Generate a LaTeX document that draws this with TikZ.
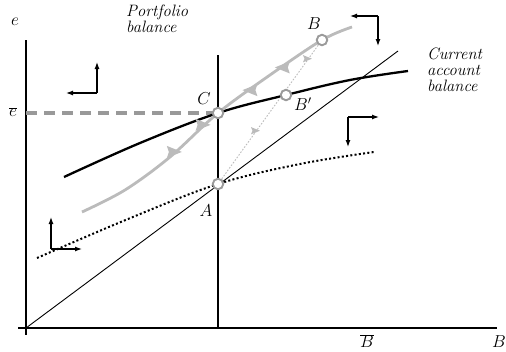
\documentclass[tikz,border=0pt]{standalone}
\usepackage{fontspec}
\usetikzlibrary{arrows.meta,decorations.markings}
\definecolor{pathgray}{HTML}{BBBBBB}
\definecolor{dashgray}{HTML}{999999}
\definecolor{ringgray}{HTML}{9A9A9A}
\begin{document}
\begin{tikzpicture}[x=1pt,y=-1pt,
  lbl/.style={font=\fontsize{16.5}{16}\selectfont\itshape, inner sep=0pt},
  mlbl/.style={font=\fontsize{16.5}{16}\selectfont, inner sep=0pt},
  axisline/.style={line width=1.2pt, black},
  pbline/.style={line width=2.1pt, black},
  caline/.style={line width=2.3pt, black},
  dotcurve/.style={line width=2pt, black, dash pattern=on 2pt off 2.3pt},
  diag/.style={line width=0.9pt, black},
  ebar/.style={line width=3.6pt, dashgray, dash pattern=on 11pt off 7pt},
  saddle/.style={line width=2.8pt, pathgray},
  adjpath/.style={line width=0.9pt, pathgray, dash pattern=on 1.6pt off 1.6pt},
  ring/.style={circle, draw=ringgray, fill=white, line width=1.9pt, minimum size=10.5pt, inner sep=0pt},
  crossarr/.style={line width=1.2pt, black, -{Latex[length=7pt,width=5pt]}},
  bighead/.pic={\fill[pathgray] (6pt,0pt) -- (-9pt,6pt) -- (-7pt,0pt) -- (-9pt,-6pt) -- cycle;},
  bigheadrev/.pic={\fill[pathgray] (-6pt,0pt) -- (9pt,6pt) -- (7pt,0pt) -- (9pt,-6pt) -- cycle;},
  smallhead/.pic={\fill[pathgray] (3.5pt,0pt) -- (-5.5pt,3.6pt) -- (-4pt,0pt) -- (-5.5pt,-3.6pt) -- cycle;}
]
\useasboundingbox (0,0) rectangle (506,351);

% key points
\coordinate (O) at (26,328);
\coordinate (A) at (218,184);
\coordinate (C) at (218,113);
\coordinate (B) at (322,40);
\coordinate (Bp) at (286,95);

% axes
\draw[axisline] (26,40) -- (26,335);
\draw[axisline] (18,328) -- (497,328);

% diagonal
\draw[diag] (O) -- (398,51);

% e-bar dashed
\draw[ebar] (26,113) -- (C);

% portfolio balance vertical
\draw[pbline] (218,55) -- (218,328);

% dotted curve
\draw[dotcurve] plot[smooth, tension=0.6] coordinates {(37,258) (128,219) (A) (300,164) (374,152)};

% current account curve
\draw[caline] plot[smooth, tension=0.6] coordinates {(64,177) (140,143) (C) (Bp) (350,80) (408,71)};

% adjustment path A -> B
\draw[adjpath, postaction={decorate, decoration={markings,
   mark=at position 0.37 with {\pic{smallhead};},
   mark=at position 0.87 with {\pic{smallhead};}}}] (A) -- (B);

% saddle path
\draw[saddle, postaction={decorate, decoration={markings,
   mark=at position 0.34 with {\pic{bighead};},
   mark=at position 0.46 with {\pic{bighead};},
   mark=at position 0.63 with {\pic{bigheadrev};},
   mark=at position 0.75 with {\pic{bigheadrev};}}}]
  plot[smooth, tension=0.55] coordinates {(82,212) (125,190) (170,157) (C) (270,75) (B) (352,27)};

% rings
\node[ring] (nA) at (A) {};
\node[ring] (nC) at (C) {};
\node[ring] (nB) at (B) {};
\node[ring] (nBp) at (Bp) {};

% arrow crosses
\coordinate (k1) at (97,93);
\coordinate (k1u) at (97,62);
\coordinate (k1l) at (66,93);
\draw[crossarr] (k1) -- (k1u);
\draw[crossarr] (k1) -- (k1l);

\coordinate (k2) at (51,249);
\coordinate (k2u) at (51,217);
\coordinate (k2r) at (82,249);
\draw[crossarr] (k2) -- (k2u);
\draw[crossarr] (k2) -- (k2r);

\coordinate (k3) at (348,117);
\coordinate (k3r) at (379,117);
\coordinate (k3d) at (348,147);
\draw[crossarr] (k3) -- (k3r);
\draw[crossarr] (k3) -- (k3d);

\coordinate (k4) at (378,16);
\coordinate (k4l) at (350,16);
\coordinate (k4d) at (378,46);
\draw[crossarr] (k4) -- (k4l);
\draw[crossarr] (k4) -- (k4d);

% labels
\node[mlbl] (le) at (15,22) {$e$};
\node[mlbl] (lebar) at (13,112) {$\overline{e}$};
\node[mlbl] (lBbar) at (367,341) {$\overline{B}$};
\node[mlbl] (lB) at (499,342) {$B$};
\node[mlbl] (lC) at (204,99) {$C$};
\node[mlbl] (lA) at (206,211) {$A$};
\node[mlbl] (lBB) at (314,24) {$B$};
\node[mlbl] (lBp) at (303,104) {$B'$};
\node[lbl, anchor=base west, align=left] (lpb) at (126,32) {Portfolio\\balance};
\node[lbl, anchor=base west, align=left] (lca) at (427,91) {Current\\account\\balance};
\end{tikzpicture}
\end{document}
